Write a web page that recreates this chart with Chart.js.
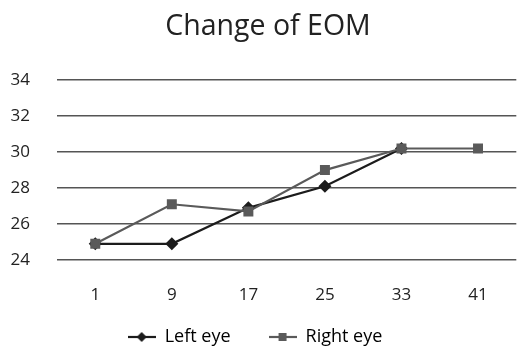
<!DOCTYPE html>
<html><head><meta charset="utf-8">
<script src="https://cdn.jsdelivr.net/npm/chart.js@4/dist/chart.umd.min.js"></script>
<style>html,body{margin:0;padding:0;background:#fff}#wrap{width:524px;height:347px}</style>
</head><body><div id="wrap"><canvas id="c" width="524" height="347"></canvas></div>
<script>
const categories = ['1','9','17','25','33','41'];
const leftEye = [24.9, 24.9, 26.9, 28.1, 30.2, null];
const rightEye = [24.9, 27.1, 26.7, 29.0, 30.2, 30.2];
const yTicks = [24, 26, 28, 30, 32, 34];

const FONT = '"Open Sans", "Noto Sans", sans-serif';
function legendIcon(color, style){
  const c = document.createElement('canvas');
  c.width = 28; c.height = 12;
  const g = c.getContext('2d');
  g.strokeStyle = color; g.lineWidth = 2.2;
  g.beginPath(); g.moveTo(0,6); g.lineTo(28,6); g.stroke();
  g.fillStyle = color;
  if (style === 'diamond'){ g.beginPath(); g.moveTo(14,1); g.lineTo(19,6); g.lineTo(14,11); g.lineTo(9,6); g.closePath(); g.fill(); }
  else { g.fillRect(10,2,8,8); }
  return c;
}
const titleShift = {
  id: 'titleShift',
  afterLayout(chart) { const t = chart.titleBlock; if (t) { t.left += 13; t.right += 13; } }
};
const cLeft = '#1c1c1c', cRight = '#5a5a5a';
new Chart(document.getElementById('c'), {
  type: 'line',
  plugins: [titleShift],
  data: { labels: categories, datasets: [
    { label: 'Left eye', data: leftEye, order: 1, borderColor: cLeft, backgroundColor: cLeft, borderWidth: 2.2, pointStyle: 'rectRot', pointRadius: 5, pointHoverRadius: 5, tension: 0 },
    { label: 'Right eye', data: rightEye, order: 0, borderColor: cRight, backgroundColor: cRight, borderWidth: 2.2, pointStyle: 'rect', pointRadius: 5.5, pointHoverRadius: 5.5, tension: 0 }
  ]},
  options: {
    responsive: false, animation: false, devicePixelRatio: 1,
    layout: { padding: { left: -14, right: 0, top: 0, bottom: -9 } },
    plugins: {
      tooltip: { enabled: false },
      title: { display: true, text: 'Change of EOM', color: '#222', font: { family: FONT, size: 28.5, weight: 'normal' }, padding: { top: 10, bottom: 36 } },
      legend: { position: 'bottom', labels: { usePointStyle: true, pointStyleWidth: 28, color: '#222', font: { family: FONT, size: 18 }, padding: 38,
        generateLabels: (chart) => chart.data.datasets.map((d, i) => ({ text: d.label, pointStyle: legendIcon(d.borderColor, i === 0 ? 'diamond' : 'square'), fillStyle: d.borderColor, strokeStyle: d.borderColor, lineWidth: 0, datasetIndex: i, hidden: false })) } }
    },
    scales: {
      x: { offset: true, grid: { display: false, drawTicks: false }, border: { display: false },
           afterFit: (s) => { s.height = 30; s._computeLabelArea = () => undefined; },
           ticks: { color: '#222', font: { family: FONT, size: 17 }, padding: 25 } },
      y: { min: 24, max: 34, afterFit: (s) => { s.width = 71; },
           afterBuildTicks: (s) => { s.ticks = yTicks.map(v => ({ value: v })); },
           grid: { color: '#555', lineWidth: 1.4, drawTicks: false }, border: { display: false },
           ticks: { color: '#222', font: { family: FONT, size: 17 }, padding: 27 } }
    }
  }
});
</script></body></html>
